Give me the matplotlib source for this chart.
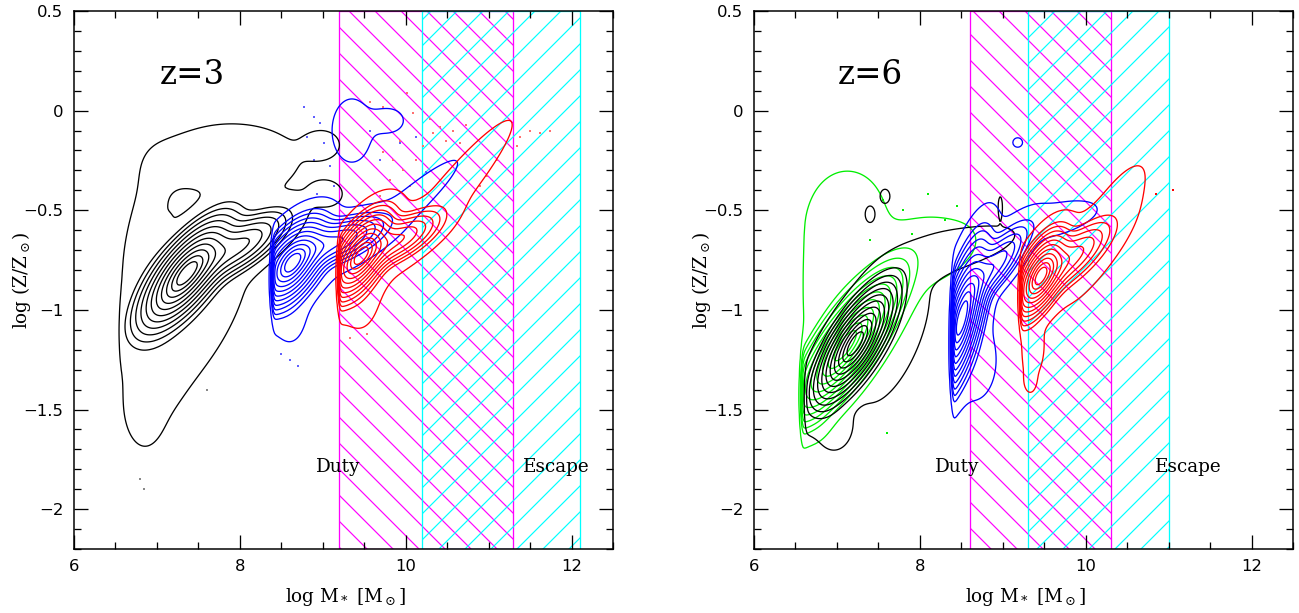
import numpy as np
import matplotlib
matplotlib.use("Agg")
import matplotlib.pyplot as plt
from matplotlib.ticker import MultipleLocator

plt.rcParams['font.family'] = ['DejaVu Sans']
plt.rcParams['mathtext.fontset'] = 'dejavuserif'
plt.rcParams['hatch.linewidth'] = 0.55
plt.rcParams['axes.unicode_minus'] = True

# ---- data ----
# each population: (x0, y0, sx, sy, slope, weight) blobs of the density map
# ridge follows y = y0 + slope*(x-x0); sx spread in log M*, sy spread about the ridge
z3_black = [(7.35, -0.82, 0.26, 0.09, 0.36, 1.00),
            (8.00, -0.68, 0.28, 0.06, 0.22, 0.30),
            (7.90, -0.24, 0.60, 0.13, 0.00, 0.010),
            (6.90, -0.95, 0.25, 0.40, 0.00, 0.010),
            (7.50, -1.05, 0.45, 0.20, 0.45, 0.010),
            (6.85, -1.50, 0.12, 0.10, 0.00, 0.008),
            (9.00, -0.17, 0.15, 0.05, 0.00, 0.008),
            (9.05, -0.42, 0.15, 0.05, 0.00, 0.008),
            (7.13, -0.56, 0.03, 0.02, 0.00, 0.008)]
z3_blue = [(8.62, -0.77, 0.20, 0.085, 0.28, 1.00),
           (9.15, -0.66, 0.28, 0.05, 0.15, 0.30),
           (9.90, -0.52, 0.55, 0.07, 0.35, 0.010),
           (8.60, -1.00, 0.15, 0.12, 0.00, 0.010),
           (9.35, -0.10, 0.18, 0.12, 0.00, 0.010),
           (9.80, -0.05, 0.15, 0.05, 0.00, 0.008)]
z3_red = [(9.45, -0.73, 0.18, 0.08, 0.35, 1.00),
          (9.90, -0.65, 0.25, 0.05, 0.20, 0.30),
          (10.50, -0.44, 0.60, 0.10, 0.47, 0.010),
          (9.45, -0.92, 0.15, 0.12, 0.00, 0.010)]

z6_green = [(7.10, -1.18, 0.30, 0.10, 0.45, 1.00),
            (7.15, -0.52, 0.30, 0.15, 0.00, 0.010),
            (6.95, -0.90, 0.30, 0.25, 0.00, 0.010),
            (8.00, -0.72, 0.50, 0.12, 0.10, 0.010),
            (6.75, -1.50, 0.12, 0.10, 0.00, 0.008)]
z6_black = [(7.22, -1.17, 0.22, 0.09, 0.45, 1.00),
            (8.40, -0.70, 0.55, 0.07, 0.10, 0.010),
            (7.70, -1.15, 0.35, 0.20, 0.50, 0.008),
            (6.95, -1.60, 0.15, 0.08, 0.00, 0.008),
            (7.58, -0.43, 0.05, 0.03, 0.00, 0.008),
            (7.40, -0.52, 0.05, 0.035, 0.00, 0.008),
            (8.97, -0.48, 0.02, 0.04, 0.00, 0.008)]
z6_blue = [(8.50, -1.05, 0.15, 0.13, 0.80, 1.00),
           (8.90, -0.78, 0.20, 0.06, 0.40, 0.25),
           (9.60, -0.55, 0.40, 0.06, 0.10, 0.010),
           (8.65, -1.25, 0.20, 0.15, 0.00, 0.010),
           (9.18, -0.16, 0.05, 0.02, 0.00, 0.008)]
z6_red = [(9.45, -0.83, 0.15, 0.08, 0.40, 1.00),
          (9.80, -0.75, 0.25, 0.06, 0.30, 0.25),
          (10.20, -0.62, 0.40, 0.15, 0.55, 0.010),
          (9.35, -1.20, 0.10, 0.10, 0.00, 0.010),
          (9.33, -1.36, 0.05, 0.04, 0.00, 0.008)]

# lower mass limit of each population
z3_cuts = {'black': 6.55, 'blue': 8.40, 'red': 9.20}
z6_cuts = {'#00ee00': 6.58, 'black': 6.62, 'blue': 8.40, 'red': 9.22}

# contour levels (fraction of the peak), outermost first
levels = [0.004, 0.023, 0.042, 0.073, 0.12, 0.188, 0.278, 0.391, 0.522, 0.661, 0.794, 0.904]

# shaded mass ranges
z3_duty = (9.2, 11.3)
z3_escape = (10.2, 12.1)
z6_duty = (8.6, 10.3)
z6_escape = (9.3, 11.0)

# scattered single galaxies
z3_red_x = [9.57, 9.73, 10.01, 10.09, 10.29, 10.33, 10.41, 10.49, 10.57, 10.65, 10.73, 9.73, 9.85,
            9.97, 10.13, 9.81, 10.05, 9.69, 9.93, 10.21, 11.38, 11.5, 11.62, 11.74, 11.34, 11.1,
            10.98, 10.9, 9.53, 9.33]
z3_red_y = [0.045, 0.02, 0.09, -0.01, -0.04, -0.11, -0.08, -0.15, -0.10, -0.16, -0.07, -0.21, -0.25,
            -0.30, -0.25, -0.35, -0.38, -0.43, -0.15, -0.18, -0.13, -0.10, -0.11, -0.10, -0.18, -0.25,
            -0.33, -0.38, -1.12, -1.14]
z3_blue_x = [8.89, 8.97, 8.81, 9.01, 8.89, 9.09, 9.57, 9.69, 9.93, 10.13, 10.25, 8.77, 8.93, 9.13,
             8.6, 8.7, 8.5]
z3_blue_y = [-0.03, -0.06, -0.13, -0.16, -0.25, -0.28, -0.10, -0.25, -0.16, -0.13, -0.31, 0.02,
             -0.42, -0.38, -1.25, -1.28, -1.22]
z3_grey_x = [6.8, 6.85, 7.6]
z3_grey_y = [-1.85, -1.9, -1.4]
z6_green_x = [7.55, 7.8, 8.1, 8.3, 7.9, 7.4, 8.45, 7.6]
z6_green_y = [-0.45, -0.5, -0.42, -0.55, -0.62, -0.65, -0.48, -1.62]
z6_red_x = [11.05, 10.85]
z6_red_y = [-0.4, -0.42]

xg = np.linspace(6, 12.5, 560)
yg = np.linspace(-2.2, 0.5, 300)
X, Y = np.meshgrid(xg, yg)


def density(blobs, cut):
    Z = np.zeros_like(X)
    for x0, y0, sx, sy, k, w in blobs:
        dx = X - x0
        dy = Y - y0 - k * dx
        Z += w * np.exp(-0.5 * ((dx / sx) ** 2 + (dy / sy) ** 2))
    Z *= 1.0 / (1.0 + np.exp(-(X - cut) / 0.01))
    return Z / Z.max()


def setup(ax, duty, escape):
    ax.axvspan(duty[0], duty[1], facecolor='none', edgecolor='#ff00ff', hatch='\\\\', lw=0.6, zorder=1)
    ax.axvspan(escape[0], escape[1], facecolor='none', edgecolor='#00ffff', hatch='//', lw=0.6, zorder=1)
    ax.set_xlim(6, 12.5)
    ax.set_ylim(-2.2, 0.5)
    ax.xaxis.set_major_locator(MultipleLocator(2))
    ax.xaxis.set_minor_locator(MultipleLocator(0.5))
    ax.yaxis.set_major_locator(MultipleLocator(0.5))
    ax.yaxis.set_minor_locator(MultipleLocator(0.1))
    ax.yaxis.set_major_formatter(matplotlib.ticker.FuncFormatter(
        lambda v, p: ('%g' % v).replace('-', '\u2212')))
    ax.tick_params(which='both', direction='in', top=True, right=True, width=0.6, labelsize=7.6)
    ax.tick_params(which='major', length=6.5)
    ax.tick_params(which='minor', length=3.2)
    ax.tick_params(axis='x', pad=4.5)
    ax.tick_params(axis='y', pad=5)
    for s in ax.spines.values():
        s.set_linewidth(0.7)
    ax.set_xlabel(r'log M$_*$ [M$_\odot$]', family='DejaVu Serif', fontsize=8.5)
    ax.set_ylabel(r'log (Z/Z$_\odot$)', family='DejaVu Serif', fontsize=8.5)
    ax.xaxis.set_label_coords(0.503, -0.089)
    ax.yaxis.set_label_coords(-0.098, 0.5)
    ax.xaxis.label.set_verticalalignment('center')
    ax.yaxis.label.set_verticalalignment('center')


fig = plt.figure(figsize=(1299 / 156, 613 / 156), dpi=156)
ax1 = fig.add_axes([74 / 1299, 64 / 613, 539 / 1299, 538 / 613])
ax2 = fig.add_axes([754 / 1299, 64 / 613, 539 / 1299, 538 / 613])

# z = 3
setup(ax1, z3_duty, z3_escape)
ax1.scatter(z3_red_x, z3_red_y, s=1.2, marker='s', color='#ff7070', lw=0, zorder=2)
ax1.scatter(z3_blue_x, z3_blue_y, s=1.2, marker='s', color='#6060ff', lw=0, zorder=2)
ax1.scatter(z3_grey_x, z3_grey_y, s=1.2, marker='s', color='#888888', lw=0, zorder=2)
for blobs, col in [(z3_black, 'black'), (z3_blue, 'blue'), (z3_red, 'red')]:
    ax1.contour(X, Y, density(blobs, z3_cuts[col]), levels=levels, colors=col, linewidths=0.6, zorder=3)
ax1.text(7.04, 0.18, 'z=3', family='DejaVu Serif', fontsize=15, va='center')
ax1.text(8.92, -1.79, 'Duty', family='DejaVu Serif', fontsize=8.5, va='center')
ax1.text(11.42, -1.79, 'Escape', family='DejaVu Serif', fontsize=8.5, va='center')

# z = 6
setup(ax2, z6_duty, z6_escape)
ax2.scatter(z6_green_x, z6_green_y, s=1.2, marker='s', color='#00ee00', lw=0, zorder=2)
ax2.scatter(z6_red_x, z6_red_y, s=1.2, marker='s', color='red', lw=0, zorder=2)
for blobs, col in [(z6_green, '#00ee00'), (z6_black, 'black'), (z6_blue, 'blue'), (z6_red, 'red')]:
    ax2.contour(X, Y, density(blobs, z6_cuts[col]), levels=levels, colors=col, linewidths=0.6, zorder=3)
ax2.text(7.01, 0.18, 'z=6', family='DejaVu Serif', fontsize=15, va='center')
ax2.text(8.18, -1.79, 'Duty', family='DejaVu Serif', fontsize=8.5, va='center')
ax2.text(10.83, -1.79, 'Escape', family='DejaVu Serif', fontsize=8.5, va='center')

fig.savefig('out.png', dpi=156)
